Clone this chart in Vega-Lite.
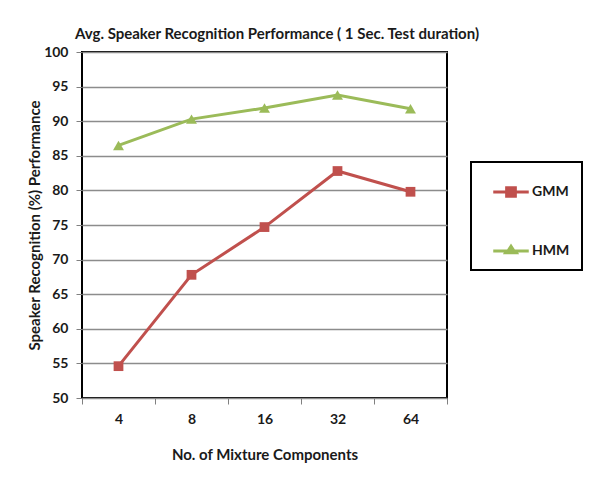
{
  "$schema": "https://vega.github.io/schema/vega-lite/v6.json",
  "width": 365,
  "height": 346,
  "autosize": {"type": "none"},
  "padding": {"left": 82, "top": 52, "right": 165, "bottom": 96},
  "background": "white",
  "title": {
    "text": "Avg. Speaker Recognition Performance ( 1 Sec. Test duration)",
    "anchor": "start",
    "frame": "group",
    "dx": -7,
    "offset": 3,
    "font": "Lato",
    "fontSize": 15,
    "fontWeight": "bold",
    "color": "#1a1a1a"
  },
  "config": {
    "view": {"stroke": "#000000", "strokeWidth": 2},
    "font": "Lato",
    "axis": {
      "labelFont": "Lato",
      "labelFontWeight": "bold",
      "labelFontSize": 14,
      "labelColor": "#1a1a1a",
      "titleFont": "Lato",
      "titleFontWeight": "bold",
      "titleFontSize": 15,
      "titleColor": "#1a1a1a",
      "domain": false,
      "tickColor": "#808080",
      "tickSize": 6
    }
  },
  "data": {
    "values": [
      {"components": "4", "model": "GMM", "performance": 54.6},
      {"components": "8", "model": "GMM", "performance": 67.8},
      {"components": "16", "model": "GMM", "performance": 74.7},
      {"components": "32", "model": "GMM", "performance": 82.8},
      {"components": "64", "model": "GMM", "performance": 79.8},
      {"components": "4", "model": "HMM", "performance": 86.5},
      {"components": "8", "model": "HMM", "performance": 90.3},
      {"components": "16", "model": "HMM", "performance": 91.9},
      {"components": "32", "model": "HMM", "performance": 93.8},
      {"components": "64", "model": "HMM", "performance": 91.8}
    ]
  },
  "encoding": {
    "x": {
      "field": "components",
      "type": "ordinal",
      "sort": ["4", "8", "16", "32", "64"],
      "scale": {"type": "band", "paddingInner": 0, "paddingOuter": 0},
      "axis": {
        "title": "No. of Mixture Components",
        "labelAngle": 0,
        "tickBand": "extent",
        "labelPadding": 8,
        "titlePadding": 21,
        "grid": false
      }
    },
    "y": {
      "field": "performance",
      "type": "quantitative",
      "scale": {"domain": [50, 100], "nice": false, "zero": false},
      "axis": {
        "title": "Speaker Recognition  (%) Performance",
        "values": [50, 55, 60, 65, 70, 75, 80, 85, 90, 95, 100],
        "grid": true,
        "gridColor": "#8c8c8c",
        "gridWidth": 1.5,
        "labelPadding": 8,
        "titlePadding": 1
      }
    },
    "color": {
      "field": "model",
      "type": "nominal",
      "scale": {"domain": ["GMM", "HMM"], "range": ["#C0504D", "#9BBB59"]},
      "legend": {
        "title": null,
        "orient": "none",
        "legendX": 389,
        "legendY": 110,
        "direction": "vertical",
        "strokeColor": "#000000",
        "padding": 12,
        "symbolOffset": 10,
        "symbolSize": 1156,
        "rowPadding": 32,
        "labelOffset": 3,
        "labelFont": "Lato",
        "labelFontWeight": "bold",
        "labelFontSize": 14,
        "labelColor": "#1a1a1a",
        "labelExpr": "datum.label + '\u00a0\u00a0\u00a0\u00a0\u00a0\u00a0\u00a0\u00a0\u00a0\u00a0'",
        "encode": {
          "legend": {
            "update": {
              "strokeWidth": {"value": 2}
            }
          },
          "symbols": {
            "update": {
              "shape": {"signal": "datum.value === 'GMM' ? 'M-1,-0.05H-0.3V-0.3H0.3V-0.05H1V0.05H0.3V0.3H-0.3V0.05H-1Z' : 'M-1,-0.05H-0.2L0,-0.36L0.2,-0.05H1V0.05H0.35L0.4,0.14H-0.4L-0.35,0.05H-1Z'"},
              "fill": {"signal": "datum.value === 'GMM' ? '#C0504D' : '#9BBB59'"},
              "stroke": {"value": "transparent"},
              "opacity": {"value": 1},
              "fillOpacity": {"value": 1}
            }
          }
        }
      }
    }
  },
  "layer": [
    {
      "mark": {"type": "line", "strokeWidth": 3}
    },
    {
      "transform": [{"filter": "datum.model === 'GMM'"}],
      "mark": {"type": "point", "shape": "square", "filled": true, "opacity": 1, "size": 95}
    },
    {
      "transform": [{"filter": "datum.model === 'HMM'"}],
      "mark": {"type": "point", "shape": "triangle-up", "filled": true, "opacity": 1, "size": 120}
    }
  ]
}
